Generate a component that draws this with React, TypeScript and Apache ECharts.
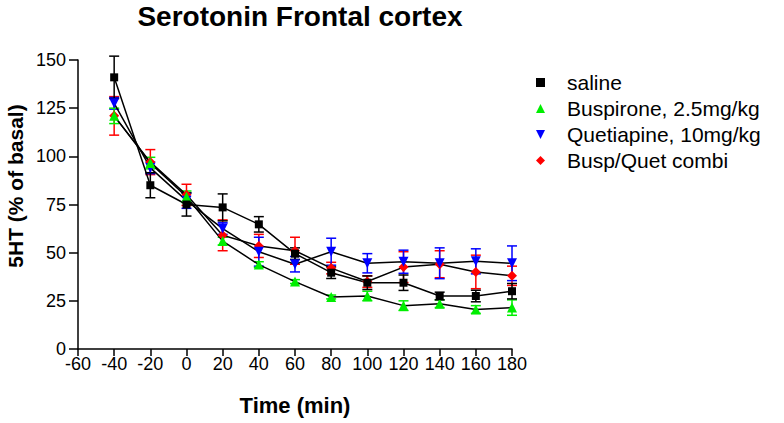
import React, { useEffect, useRef } from "react";
import * as echarts from "echarts";

const times = [-40, -20, 0, 20, 40, 60, 80, 100, 120, 140, 160, 180];

const salineMean = [141, 85, 75, 73.5, 64.7, 49.5, 39.6, 34.4, 34.4, 27.5, 27.5, 30];
const salineSem = [11, 6.5, 6, 7, 4, 3, 3, 3.5, 4, 2, 3, 4];

const buspMean = [121, 96.5, 79, 56, 43.8, 35, 27, 27.5, 22.5, 23.5, 20.5, 21.5];
const buspSem = [4, 3, 3, 2, 1.5, 1, 1, 2.5, 2.5, 2, 2, 4];

const quetMean = [127.5, 94, 77, 62.5, 50.5, 44, 50.5, 44.5, 45.3, 44.5, 45.5, 44.5];
const quetSem = [3, 3, 4, 3, 7.5, 4, 7, 5, 6, 8, 6.5, 9];

const combiMean = [121, 97, 80, 59, 53.5, 51, 42, 35, 42.5, 44, 40, 38];
const combiSem = [10, 6.5, 5.5, 8, 6, 7, 3, 3, 8, 7, 8.7, 5];

const seriesNames = ["saline", "Buspirone, 2.5mg/kg", "Quetiapine, 10mg/kg", "Busp/Quet combi"];
const seriesColors = ["#000000", "#00ee00", "#0000ff", "#ff0000"];
const seriesSymbols = ["rect", "triangle", "path://M0,0L10,0L5,10Z", "diamond"];
const seriesSizes = [8, 10, 10, 10];

const xTicks = { min: -60, max: 180, interval: 20 };
const yTicks = { min: 0, max: 150, interval: 25 };

const FONT = "'Liberation Sans', Arial, Helvetica, sans-serif";

export default function App() {
  const ref = useRef<HTMLDivElement>(null);

  useEffect(() => {
    if (!ref.current) return;
    const chart = echarts.init(ref.current, undefined, { renderer: "svg" });
    const means = [salineMean, buspMean, quetMean, combiMean];
    const sems = [salineSem, buspSem, quetSem, combiSem];

    const errorSeries: any[] = [];
    const lineSeries: any[] = [];
    const order = [3, 2, 1, 0];
    order.forEach((i) => {
      const color = seriesColors[i];
      errorSeries.push({
        type: "custom",
        name: "err-" + i,
        z: 2,
        silent: true,
        data: times.map((t, k) => [t, means[i][k] - sems[i][k], means[i][k] + sems[i][k]]),
        encode: { x: 0, y: [1, 2] },
        renderItem: (params: any, api: any) => {
          const x = api.value(0);
          const lo = api.value(1);
          const hi = api.value(2);
          const p1 = api.coord([x, hi]);
          const p2 = api.coord([x, lo]);
          const w = 5;
          const st = { stroke: color, lineWidth: 1.5 };
          return {
            type: "group",
            children: [
              { type: "line", shape: { x1: p1[0], y1: p1[1], x2: p2[0], y2: p2[1] }, style: st },
              { type: "line", shape: { x1: p1[0] - w, y1: p1[1], x2: p1[0] + w, y2: p1[1] }, style: st },
              { type: "line", shape: { x1: p2[0] - w, y1: p2[1], x2: p2[0] + w, y2: p2[1] }, style: st },
            ],
          };
        },
      });
      lineSeries.push({
        type: "line",
        name: seriesNames[i],
        z: 3,
        data: times.map((t, k) => [t, means[i][k]]),
        symbol: seriesSymbols[i],
        symbolSize: seriesSizes[i],
        showAllSymbol: true,
        itemStyle: { color, borderWidth: 0 },
        lineStyle: { color: "#000", width: 1.5 },
        emphasis: { disabled: true },
      });
    });

    chart.setOption({
      animation: false,
      textStyle: { fontFamily: FONT, color: "#000" },
      title: {
        text: "Serotonin Frontal cortex",
        left: 295,
        top: -3,
        textAlign: "center",
        textStyle: { fontFamily: FONT, fontSize: 28, fontWeight: "bold", color: "#000" },
      },
      legend: {
        orient: "vertical",
        left: 531,
        top: 67,
        itemWidth: 9,
        itemHeight: 9,
        itemGap: 5,
        selectedMode: false,
        data: seriesNames.map((n, i) => ({ name: n, icon: seriesSymbols[i] })),
        textStyle: { fontFamily: FONT, fontSize: 21, color: "#000", padding: [0, 0, 0, 17] },
        itemStyle: { borderWidth: 0 },
      },
      grid: { left: 78, right: 272, top: 60, bottom: 74, containLabel: false },
      xAxis: {
        type: "value",
        min: xTicks.min,
        max: xTicks.max,
        interval: xTicks.interval,
        name: "Time (min)",
        nameLocation: "middle",
        nameGap: 45,
        nameTextStyle: { fontFamily: FONT, fontSize: 22, fontWeight: "bold", color: "#000" },
        axisLine: { onZero: false, lineStyle: { color: "#000", width: 1.5 } },
        axisTick: { show: true, length: 7, lineStyle: { color: "#000", width: 1.5 } },
        axisLabel: { fontFamily: FONT, fontSize: 18, color: "#000", margin: 6 },
        splitLine: { show: false },
      },
      yAxis: {
        type: "value",
        min: yTicks.min,
        max: yTicks.max,
        interval: yTicks.interval,
        axisLine: { show: true, onZero: false, lineStyle: { color: "#000", width: 1.5 } },
        axisTick: { show: true, length: 9, lineStyle: { color: "#000", width: 1.5 } },
        axisLabel: { fontFamily: FONT, fontSize: 18, color: "#000", margin: 12 },
        splitLine: { show: false },
      },
      graphic: [
        {
          type: "text",
          x: 15,
          y: 186,
          rotation: Math.PI / 2,
          style: {
            text: "5HT (% of basal)",
            font: "bold 21px " + FONT,
            fill: "#000",
            align: "center",
            verticalAlign: "middle",
          },
        },
      ],
      series: [...errorSeries, ...lineSeries],
    });

    return () => chart.dispose();
  }, []);

  return (
    <div
      ref={ref}
      style={{ position: "absolute", left: 0, top: 0, width: 784, height: 423 }}
    />
  );
}
